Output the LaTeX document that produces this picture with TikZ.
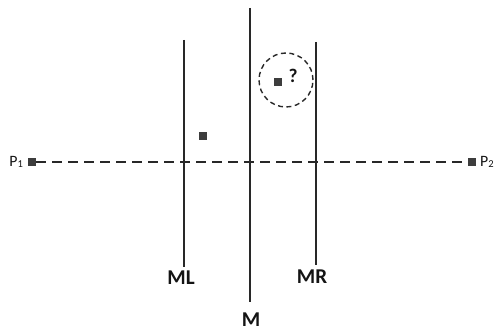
\documentclass[tikz,border=0pt]{standalone}
\usepackage{fontspec}
\setmainfont{Carlito}
\usetikzlibrary{positioning}
\definecolor{mirrorgray}{RGB}{40,40,40}
\definecolor{labeldark}{RGB}{20,20,20}
\tikzset{
  mirror/.style={draw=mirrorgray, line width=1.1pt},
  pointbox/.style={fill=mirrorgray!90, draw=none, minimum size=0.16cm, inner sep=0pt},
  mirrorlabel/.style={font=\fontsize{12}{14}\selectfont\bfseries, text=labeldark},
  endlabel/.style={font=\fontsize{9}{11}\selectfont, text=labeldark, inner sep=1pt},
}

\begin{document}
\begin{tikzpicture}[x=0.02cm, y=-0.02cm]
\useasboundingbox (0,0) rectangle (498,334);
% the three mirrors
\coordinate (mltop) at (184,40);  \coordinate (mlbot) at (184,267);
\coordinate (mtop)  at (250,8);   \coordinate (mbot)  at (250,302);
\coordinate (mrtop) at (316,42);  \coordinate (mrbot) at (316,265);
\draw[mirror] (mltop) -- (mlbot);
\draw[mirror] (mtop) -- (mbot);
\draw[mirror] (mrtop) -- (mrbot);
\node[mirrorlabel] (ml) at (181,278) {ML};
\node[mirrorlabel] (m)  at (251,320) {M};
\node[mirrorlabel] (mr) at (312,277) {MR};
% end points and the line between them
\node[pointbox] (p1) at (32,162) {};
\node[pointbox] (p2) at (472,162) {};
\node[endlabel, left=1pt of p1] (p1lbl) {P\textsubscript{1}};
\node[endlabel, right=1pt of p2] (p2lbl) {P\textsubscript{2}};
\draw[draw=mirrorgray, line width=0.8pt, dash pattern=on 0.2cm off 0.12cm] (p1) -- (p2);
% image points
\node[pointbox] (img) at (203,136) {};
\node[draw=mirrorgray, line width=0.8pt, dash pattern=on 0.1cm off 0.07cm, circle, minimum size=1.08cm, inner sep=0pt] (ring) at (286,80) {};
\node[pointbox] (unknown) at (278,82) {};
\node[font=\fontsize{11}{13}\selectfont\bfseries, text=labeldark, inner sep=0pt] (qmark) at (293,76) {?};
\end{tikzpicture}
\end{document}
